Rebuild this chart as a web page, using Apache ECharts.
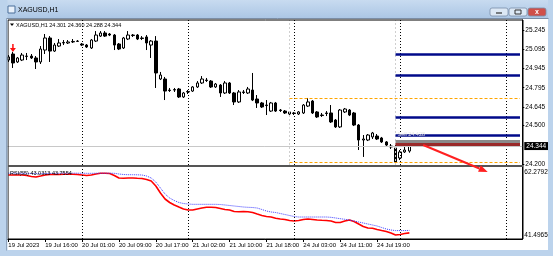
<!DOCTYPE html>
<html><head><meta charset="utf-8">
<script src="https://cdn.jsdelivr.net/npm/echarts@6/dist/echarts.min.js"></script>
<style>html,body{margin:0;padding:0;background:#c6d9ee}#c{width:553px;height:256px}</style>
</head><body><div id="c"></div>
<script>
// ---- data ----
const tickLabels = ['19 Jul 2023','19 Jul 16:00','20 Jul 01:00','20 Jul 09:00','20 Jul 17:00','21 Jul 02:00','21 Jul 10:00','21 Jul 18:00','24 Jul 03:00','24 Jul 11:00','24 Jul 19:00'];
const labelStep = 8;            // bars between time labels
const totalSlots = 112;         // bars + right shift
const daySeparators = [16, 39, 62, 85, 108];
const priceTicks = [25.245, 25.095, 24.945, 24.795, 24.645, 24.500, 24.200];
const oscTicks = [62.2792, 41.4965];

const open  = [25.011,25.058,24.996,25.011,25.039,25.042,25.027,24.996,25.089,25.183,25.081,25.120,25.144,25.144,25.152,25.156,25.136,25.128,25.105,25.159,25.198,25.222,25.214,25.206,25.136,25.105,25.175,25.202,25.206,25.183,25.191,25.128,25.159,24.863,24.863,24.777,24.777,24.785,24.723,24.762,24.769,24.801,24.832,24.855,24.847,24.801,24.816,24.754,24.832,24.754,24.684,24.762,24.754,24.777,24.707,24.676,24.660,24.613,24.676,24.621,24.613,24.590,24.598,24.590,24.598,24.652,24.691,24.606,24.582,24.598,24.598,24.543,24.489,24.606,24.621,24.598,24.504,24.387,24.387,24.411,24.418,24.403,24.372,24.340,24.325,24.247,24.294,24.301];
const close = [25.035,24.988,25.027,25.050,25.042,25.027,24.996,25.097,25.183,25.081,25.128,25.144,25.148,25.152,25.156,25.159,25.128,25.113,25.167,25.206,25.222,25.198,25.206,25.128,25.097,25.183,25.206,25.206,25.175,25.179,25.144,25.159,24.910,24.894,24.769,24.773,24.781,24.723,24.754,24.766,24.801,24.832,24.863,24.851,24.801,24.824,24.754,24.832,24.754,24.684,24.762,24.758,24.785,24.699,24.676,24.645,24.656,24.676,24.613,24.617,24.598,24.606,24.594,24.606,24.660,24.684,24.598,24.567,24.578,24.594,24.528,24.489,24.621,24.629,24.582,24.504,24.387,24.395,24.426,24.442,24.395,24.372,24.348,24.333,24.216,24.294,24.309,24.344];
const low   = [24.996,24.949,24.988,25.003,25.011,25.019,24.941,24.980,25.058,24.996,25.074,25.113,25.128,25.136,25.144,25.152,25.120,25.105,25.097,25.152,25.191,25.191,25.198,25.089,25.089,25.097,25.167,25.191,25.167,25.167,25.089,25.027,24.793,24.855,24.699,24.762,24.762,24.715,24.715,24.746,24.762,24.793,24.824,24.840,24.793,24.793,24.723,24.746,24.746,24.660,24.676,24.746,24.746,24.691,24.637,24.637,24.582,24.606,24.606,24.606,24.590,24.582,24.582,24.582,24.590,24.645,24.590,24.559,24.567,24.574,24.520,24.481,24.481,24.598,24.574,24.496,24.309,24.255,24.379,24.395,24.387,24.364,24.333,24.317,24.208,24.231,24.286,24.288];
const high  = [25.050,25.074,25.035,25.066,25.066,25.058,25.042,25.120,25.214,25.198,25.144,25.175,25.167,25.167,25.175,25.167,25.144,25.136,25.175,25.237,25.237,25.237,25.222,25.214,25.144,25.191,25.237,25.214,25.214,25.198,25.206,25.167,25.198,24.918,24.879,24.793,24.793,24.793,24.762,24.777,24.808,24.847,24.886,24.871,24.855,24.832,24.824,24.847,24.840,24.762,24.777,24.777,24.801,24.910,24.738,24.684,24.699,24.684,24.684,24.629,24.621,24.613,24.606,24.613,24.668,24.715,24.699,24.613,24.598,24.613,24.660,24.551,24.629,24.637,24.629,24.606,24.512,24.426,24.434,24.450,24.434,24.411,24.379,24.356,24.348,24.309,24.340,24.360];

const oscMain   = [60.20,60.20,60.20,60.20,60.05,59.76,59.61,59.90,60.20,60.35,60.35,60.35,60.41,60.41,60.41,60.35,60.20,60.05,60.20,60.50,60.71,60.71,60.65,60.05,59.31,59.22,59.31,59.31,59.22,59.16,58.87,58.42,56.94,54.86,53.08,52.04,51.30,50.70,50.11,49.81,49.81,50.11,50.40,50.61,50.61,50.55,50.26,49.96,49.81,49.37,49.31,49.37,49.31,49.07,48.62,48.18,47.88,47.73,47.35,47.14,46.99,46.69,46.54,46.69,46.99,47.14,46.99,46.84,46.75,46.69,46.54,46.10,46.10,46.54,46.84,46.39,45.65,44.91,44.47,44.38,44.02,43.72,43.43,42.98,42.39,42.54,42.83,43.03];
const oscSignal = [60.74,60.74,60.74,60.70,60.68,60.65,60.62,60.62,60.65,60.68,60.70,60.72,60.74,60.74,60.74,60.74,60.72,60.70,60.70,60.72,60.74,60.74,60.74,60.71,60.50,60.35,60.29,60.29,60.26,60.20,59.90,59.31,58.12,56.34,54.56,53.37,52.63,52.04,51.74,51.59,51.50,51.50,51.50,51.50,51.50,51.50,51.44,51.30,51.15,51.00,50.85,50.70,50.61,50.55,50.40,49.96,49.51,49.22,49.07,48.77,48.47,48.18,47.88,47.73,47.73,47.73,47.73,47.73,47.73,47.73,47.64,47.44,47.23,47.05,46.84,46.54,46.25,45.95,45.65,45.36,45.06,44.61,44.17,43.87,43.70,43.70,43.70,43.76];

const levelsNavy = [25.058, 24.894, 24.567, 24.426];
const levelGrey = 24.377;
const levelRed = 24.352;
const levelsOrange = [24.715, 24.216];
const bidPrice = 24.344;
const header = ['XAGUSD,H1', '24.301', '24.360', '24.288', '24.344'];
const oscLabel = 'RSI(55) 43.0313 43.7554';

// ---- chart ----
const chart = echarts.init(document.getElementById('c'), null, {renderer: 'canvas', width: 553, height: 256});
const cats = Array.from({length: totalSlots}, (_, i) => i);
const candleData = open.map((o, i) => [o, close[i], low[i], high[i]]);
const isLabelIdx = i => i % labelStep === 0 && i / labelStep < tickLabels.length;
const FONT = 'Liberation Sans';
const lastSlot = totalSlots - 1;
const startLevels = 84, startOrange = 61;

const sepLine = {type: [1, 2], color: '#000', width: 1};
const mlCandle = [];
daySeparators.forEach(d => mlCandle.push({xAxis: d, lineStyle: sepLine}));
[startOrange, startLevels].forEach(d => mlCandle.push({xAxis: d, lineStyle: {type: [2, 2], color: '#cfcfcf', width: 1}}));
levelsOrange.forEach(p => mlCandle.push([{xAxis: startOrange, yAxis: p, lineStyle: {type: [3, 2], color: '#ffa500', width: 1}}, {xAxis: lastSlot, yAxis: p}]));
mlCandle.push({yAxis: bidPrice, lineStyle: {type: 'solid', color: '#c8c8c8', width: 1},
  label: {show: true, position: 'end', formatter: bidPrice.toFixed(3), backgroundColor: '#000', color: '#fff', fontSize: 6.5, fontFamily: FONT, padding: [1, 2, 0, 2], distance: 2}});
levelsNavy.forEach(p => mlCandle.push([{xAxis: startLevels, yAxis: p, lineStyle: {type: 'solid', color: '#000a8a', width: 2.5}}, {xAxis: lastSlot, yAxis: p}]));
mlCandle.push([{xAxis: startLevels, yAxis: levelGrey, lineStyle: {type: 'solid', color: '#8a8a8a', width: 3}}, {xAxis: lastSlot, yAxis: levelGrey}]);
mlCandle.push([{xAxis: startLevels, yAxis: levelRed, lineStyle: {type: 'solid', color: '#9a2a2a', width: 3}}, {xAxis: lastSlot, yAxis: levelRed}]);

const option = {
  animation: false,
  backgroundColor: '#ffffff',
  grid: [
    {left: 6, top: 20, width: 516.3, height: 145},
    {left: 6, top: 167, width: 516.3, height: 72}
  ],
  xAxis: [
    {type: 'category', gridIndex: 0, data: cats, boundaryGap: true, show: false},
    {type: 'category', gridIndex: 1, data: cats, boundaryGap: true,
      axisLine: {show: true, lineStyle: {color: '#000', width: 1}},
      axisTick: {show: true, alignWithLabel: true, interval: (i) => isLabelIdx(i), length: 3, lineStyle: {color: '#000'}},
      axisLabel: {interval: (i) => isLabelIdx(i), formatter: (v, i) => tickLabels[i / labelStep] || '', align: 'left',
        fontSize: 6, color: '#000', margin: 3, fontFamily: FONT},
      splitLine: {show: false}}
  ],
  yAxis: [
    {type: 'value', gridIndex: 0, position: 'right', min: 24.1922, max: 25.3233,
      axisLine: {show: true, lineStyle: {color: '#000'}},
      axisTick: {show: true, customValues: priceTicks, length: 2, lineStyle: {color: '#000'}},
      axisLabel: {customValues: priceTicks, formatter: v => v.toFixed(3), fontSize: 6.5, color: '#000', margin: 3, fontFamily: FONT},
      splitLine: {show: false}},
    {type: 'value', gridIndex: 1, position: 'right', min: 41.2, max: 62.58,
      axisLine: {show: true, lineStyle: {color: '#000'}},
      axisTick: {show: false},
      axisLabel: {customValues: oscTicks, fontSize: 6.5, color: '#000', margin: 2, fontFamily: FONT,
        formatter: v => v > 50 ? '{t|' + v.toFixed(4) + '}' : '{b|' + v.toFixed(4) + '}',
        rich: {t: {fontSize: 6.5, fontFamily: FONT, padding: [8, 0, 0, 0]}, b: {fontSize: 6.5, fontFamily: FONT, padding: [0, 0, 5, 0]}}},
      splitLine: {show: false}}
  ],
  series: [
    {type: 'candlestick', xAxisIndex: 0, yAxisIndex: 0, data: candleData, barWidth: 3, clip: false,
      itemStyle: {color: '#ffffff', color0: '#000000', borderColor: '#000000', borderColor0: '#000000', borderWidth: 1},
      markLine: {silent: true, symbol: ['none', 'none'], label: {show: false}, data: mlCandle, animation: false},
      markPoint: {silent: true, data: [{coord: [1, 25.105], symbol: 'path://M3,0 L5,0 L5,5 L8,5 L4,10 L0,5 L3,5 Z', symbolSize: [6, 8], itemStyle: {color: '#ff1010'}, label: {show: false}}]}
    },
    {type: 'line', xAxisIndex: 1, yAxisIndex: 1, data: oscMain, symbol: 'none', lineStyle: {color: '#ff0000', width: 1.6},
      markLine: {silent: true, symbol: ['none', 'none'], label: {show: false}, data: daySeparators.map(d => ({xAxis: d, lineStyle: sepLine})), animation: false}},
    {type: 'line', xAxisIndex: 1, yAxisIndex: 1, data: oscSignal, symbol: 'none', lineStyle: {color: '#3b3bff', width: 1, type: [1, 1]}}
  ]
};
chart.setOption(option);

// ---- annotations positioned through the chart's scales ----
const toPx = (i, p) => chart.convertToPixel({xAxisIndex: 0, yAxisIndex: 0}, [i, p]);
const a0 = toPx(90, 24.348), a1 = toPx(104, 24.138);
const dx = a1[0] - a0[0], dy = a1[1] - a0[1], len = Math.hypot(dx, dy), ux = dx / len, uy = dy / len;
const head = 9, hw = 3.5;
const hb = [a1[0] - ux * head, a1[1] - uy * head];
const sellPos = toPx(84, 24.41);

const g = [];
// window chrome
g.push({type: 'rect', z: 100, shape: {x: 0, y: 0, width: 553, height: 19}, style: {fill: new echarts.graphic.LinearGradient(0, 0, 0, 1, [{offset: 0, color: '#c8dbf0'}, {offset: 1, color: '#aac5e4'}])}});
g.push({type: 'rect', z: 100, shape: {x: 0, y: 0, width: 7.5, height: 256}, style: {fill: '#bcd3ec'}});
g.push({type: 'rect', z: 100, shape: {x: 548, y: 0, width: 5, height: 256}, style: {fill: '#bcd3ec'}});
g.push({type: 'rect', z: 100, shape: {x: 0, y: 250, width: 553, height: 6}, style: {fill: '#bcd3ec'}});
g.push({type: 'line', z: 101, shape: {x1: 6.5, y1: 18.5, x2: 548.5, y2: 18.5}, style: {stroke: '#7c8ea6', lineWidth: 1}});
g.push({type: 'line', z: 101, shape: {x1: 6.5, y1: 18.5, x2: 6.5, y2: 250.5}, style: {stroke: '#8ea3bd', lineWidth: 1}});
g.push({type: 'rect', z: 101, shape: {x: 8, y: 6, width: 7, height: 7}, style: {fill: '#e8f0fa', stroke: '#4a6f9a', lineWidth: 1}});
g.push({type: 'text', z: 101, x: 18, y: 10, style: {text: header[0], fontSize: 7, fontFamily: FONT, fill: '#000', verticalAlign: 'middle'}});
[[490, '#dce8f5'], [509, '#dce8f5'], [528, '#d0504a']].forEach(([x, c]) => g.push({type: 'rect', z: 101, shape: {x: x, y: 8, width: 18, height: 8, r: 2}, style: {fill: c, stroke: '#7a8ea8', lineWidth: 0.8}}));
g.push({type: 'line', z: 102, shape: {x1: 496, y1: 13, x2: 502, y2: 13}, style: {stroke: '#333', lineWidth: 1.2}});
g.push({type: 'rect', z: 102, shape: {x: 515, y: 10, width: 6, height: 4}, style: {fill: 'none', stroke: '#333', lineWidth: 1}});
g.push({type: 'text', z: 102, x: 537, y: 12, style: {text: 'x', fontSize: 7, fontWeight: 'bold', fontFamily: FONT, fill: '#fff', align: 'center', verticalAlign: 'middle'}});
// chart frame + pane separator
g.push({type: 'rect', z: 50, shape: {x: 8, y: 20, width: 515, height: 219}, style: {fill: 'none', stroke: '#000', lineWidth: 1}});
g.push({type: 'rect', z: 50, shape: {x: 8, y: 165, width: 515, height: 2}, style: {fill: '#555555'}});
// header and indicator captions
g.push({type: 'polygon', z: 51, shape: {points: [[10, 23.5], [14, 23.5], [12, 26]]}, style: {fill: '#000'}});
g.push({type: 'text', z: 51, x: 16, y: 25, style: {text: header.join(' '), fontSize: 5.5, fontFamily: FONT, fill: '#000', verticalAlign: 'middle'}});
g.push({type: 'text', z: 51, x: 10, y: 173, style: {text: oscLabel, fontSize: 5.5, fontFamily: FONT, fill: '#000', verticalAlign: 'middle'}});
// trade labels
g.push({type: 'text', z: 51, x: sellPos[0] + 2, y: sellPos[1] - 3, style: {text: 'Sell 24.428', fontSize: 5.5, fontFamily: FONT, fill: '#e8e8e8', verticalAlign: 'middle'}});
// red arrow
g.push({type: 'line', z: 60, shape: {x1: a0[0], y1: a0[1], x2: hb[0], y2: hb[1]}, style: {stroke: '#ff2020', lineWidth: 2}});
g.push({type: 'polygon', z: 60, shape: {points: [a1, [hb[0] - uy * hw, hb[1] + ux * hw], [hb[0] + uy * hw, hb[1] - ux * hw]]}, style: {fill: '#ff2020'}});
chart.setOption({graphic: g});
</script></body></html>
